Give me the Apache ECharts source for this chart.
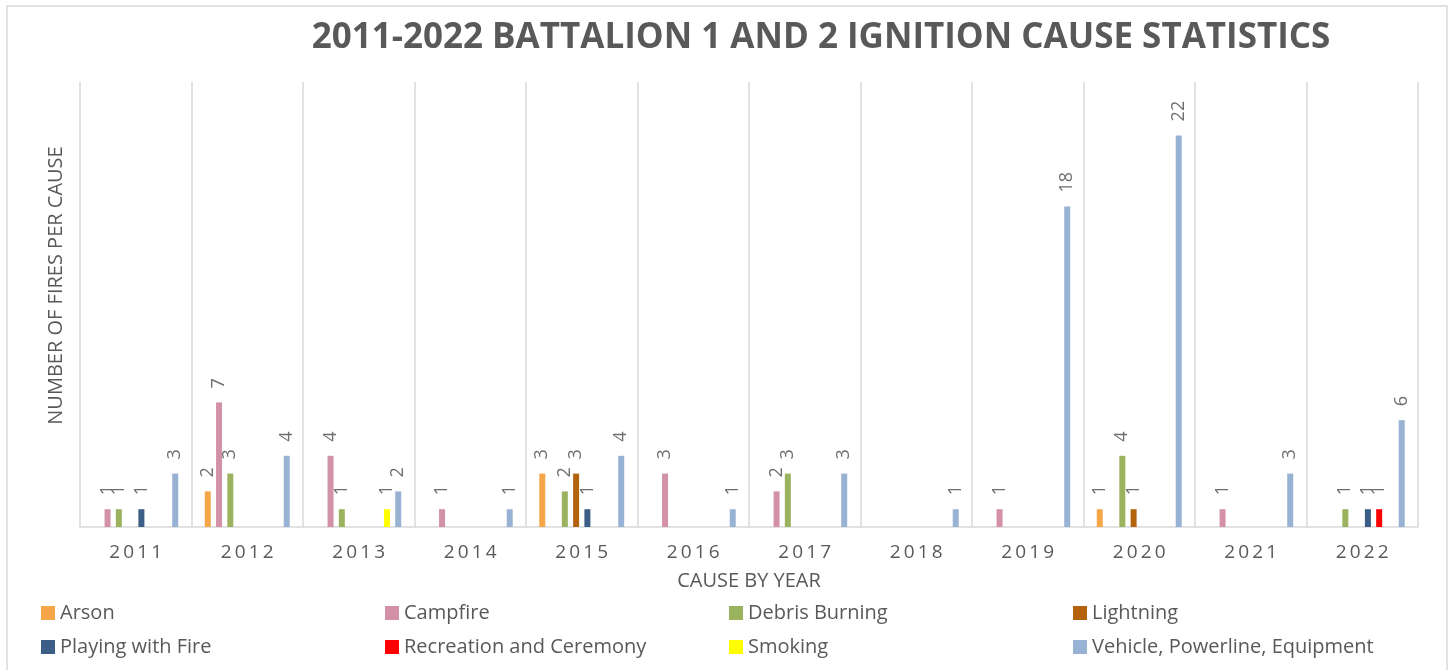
<!DOCTYPE html>
<html>
<head>
<meta charset="utf-8">
<script src="https://cdn.jsdelivr.net/npm/echarts@6/dist/echarts.min.js"></script>
<style>
  html, body { margin: 0; padding: 0; background: #fff; }
  #chart { width: 1450px; height: 670px; }
</style>
</head>
<body>
<div id="chart"></div>
<script>
// values, empty cells left as null
let years = ['2011', '2012', '2013', '2014', '2015', '2016', '2017', '2018', '2019', '2020', '2021', '2022'];
let arson      = [null, 2, null, null, 3, null, null, null, null, 1, null, null];
let campfire   = [1, 7, 4, 1, null, 3, 2, null, 1, null, 1, null];
let debris     = [1, 3, 1, null, 2, null, 3, null, null, 4, null, 1];
let lightning  = [null, null, null, null, 3, null, null, null, null, 1, null, null];
let playing    = [1, null, null, null, 1, null, null, null, null, null, null, 1];
let recreation = [null, null, null, null, null, null, null, null, null, null, null, 1];
let smoking    = [null, null, 1, null, null, null, null, null, null, null, null, null];
let vehicle    = [3, 4, 2, 1, 4, 1, 3, 1, 18, 22, 3, 6];

let causes = [
  { name: 'Arson', data: arson, color: '#f4a649' },
  { name: 'Campfire', data: campfire, color: '#d391a7' },
  { name: 'Debris Burning', data: debris, color: '#9bb25f' },
  { name: 'Lightning', data: lightning, color: '#b3620e' },
  { name: 'Playing with Fire', data: playing, color: '#3c5e86' },
  { name: 'Recreation and Ceremony', data: recreation, color: '#ff0000' },
  { name: 'Smoking', data: smoking, color: '#ffff00' },
  { name: 'Vehicle, Powerline, Equipment', data: vehicle, color: '#98b2d3' },
];

let font = '"Open Sans", sans-serif';
let grey = '#595959';
let lineGrey = '#d9d9d9';

let chart = echarts.init(document.getElementById('chart'), null, { renderer: 'canvas' });

let series = causes.map((c) => ({
  name: c.name,
  type: 'bar',
  data: c.data,
  barWidth: 6,
  barGap: '88%',
  itemStyle: { color: c.color },
  label: {
    show: true,
    position: 'top',
    rotate: 90,
    align: 'left',
    verticalAlign: 'middle',
    distance: 14,
    fontFamily: font,
    fontSize: 18,
    color: '#6e6e6e',
  },
}));

let options = {
  backgroundColor: '#ffffff',
  animation: false,
  color: causes.map((c) => c.color),
  title: {
    text: '2011-2022 BATTALION 1 AND 2 IGNITION CAUSE STATISTICS',
    left: 816,
    textAlign: 'center',
    top: 16,
    textStyle: {
      fontFamily: font,
      fontWeight: 'bold',
      fontSize: 35,
      color: grey,
    },
  },
  graphic: [
    {
      type: 'rect',
      shape: { x: 7, y: 6, width: 1440, height: 670 },
      style: { fill: 'none', stroke: lineGrey, lineWidth: 1.5 },
      silent: true,
    },
  ],
  legend: {
    left: 41,
    top: 596,
    width: 1390,
    padding: 0,
    itemWidth: 14,
    itemHeight: 14,
    itemGap: 0,
    icon: 'rect',
    textStyle: {
      fontFamily: font,
      fontSize: 20,
      color: grey,
      width: 325,
      lineHeight: 34,
    },
  },
  grid: {
    left: 80,
    right: 32,
    top: 82,
    bottom: 143,
    containLabel: false,
  },
  xAxis: {
    type: 'category',
    data: years,
    name: 'CAUSE BY YEAR',
    nameLocation: 'middle',
    nameGap: 44,
    nameTextStyle: { fontFamily: font, fontSize: 20, color: grey },
    axisLine: { lineStyle: { color: lineGrey, width: 1.5 } },
    axisTick: { show: false },
    splitLine: { show: true, lineStyle: { color: lineGrey, width: 1.5 } },
    axisLabel: {
      margin: 16,
      fontFamily: font,
      fontSize: 19,
      color: grey,
      formatter: (v) => v.split('').join('\u2009'),
    },
  },
  yAxis: {
    type: 'value',
    min: 0,
    max: 25,
    name: 'NUMBER OF FIRES PER CAUSE',
    nameLocation: 'middle',
    nameGap: 14,
    nameTextStyle: {
      fontFamily: font,
      fontSize: 20,
      color: grey,
      padding: [0, 0, 0, 38],
    },
    axisLine: { show: false },
    axisTick: { show: false },
    axisLabel: { show: false },
    splitLine: { show: false },
  },
  series,
};

chart.setOption(options);
</script>
</body>
</html>
